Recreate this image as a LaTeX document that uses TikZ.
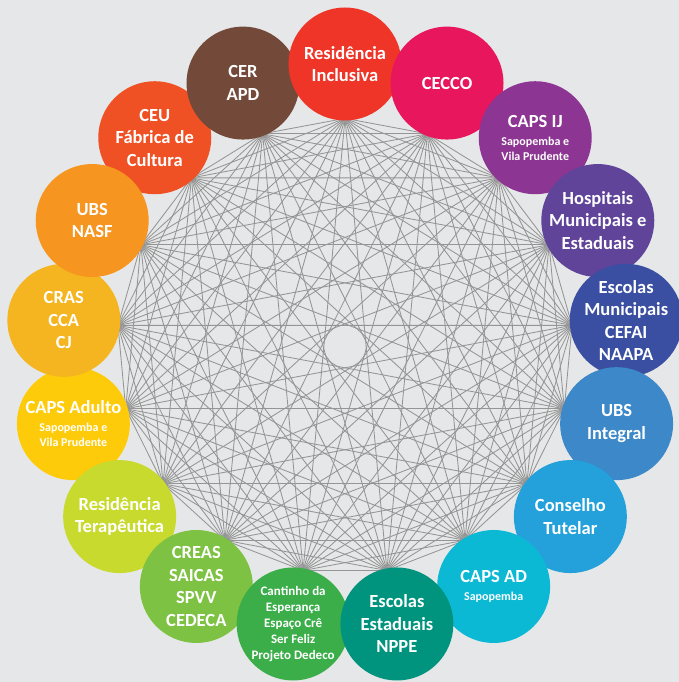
\documentclass[tikz,border=0pt]{standalone}
\usepackage{fontspec}
\setmainfont{Carlito}

% circle colours
\definecolor{bg}{HTML}{E6E7E8}
\definecolor{web}{HTML}{959595}
\definecolor{cResIncl}{HTML}{EE3528}
\definecolor{cCecco}{HTML}{E8175D}
\definecolor{cCapsIJ}{HTML}{8D3592}
\definecolor{cHosp}{HTML}{5F4499}
\definecolor{cEscMun}{HTML}{3A4FA1}
\definecolor{cUbsInt}{HTML}{3C88C8}
\definecolor{cConselho}{HTML}{24A1DB}
\definecolor{cCapsAD}{HTML}{0BB9D5}
\definecolor{cEscEst}{HTML}{00947E}
\definecolor{cCantinho}{HTML}{3BAE4A}
\definecolor{cCreas}{HTML}{7DC243}
\definecolor{cResTerap}{HTML}{C8DA2D}
\definecolor{cCapsAdulto}{HTML}{FECB0A}
\definecolor{cCras}{HTML}{F4B520}
\definecolor{cUbsNasf}{HTML}{F6951F}
\definecolor{cCeu}{HTML}{F05124}
\definecolor{cCer}{HTML}{734A3A}

\newcommand{\capsname}[1]{{\fontsize{18.5}{22.5}\selectfont #1}}

\begin{document}
\begin{tikzpicture}[x=1pt,y=1pt,
  bigtext/.style={text=white,align=center,font=\bfseries\fontsize{18.5}{22.5}\selectfont},
  subtext/.style={text=white,align=center,font=\bfseries\fontsize{12}{15.3}\selectfont},
  tinytext/.style={text=white,align=center,font=\bfseries\fontsize{13}{16}\selectfont},
  webline/.style={web,line width=0.85pt}]
\fill[bg] (0,0) rectangle (679,682);
\useasboundingbox (0,0) rectangle (679,682);

% hubs on the inner ring
\foreach \i in {0,...,16}
  \coordinate (h\i) at ([shift={(345,335.6)}]90-\i*360/17:228);

% every hub joined to every other
\foreach \i in {0,...,15}{
  \pgfmathtruncatemacro\nxt{\i+1}
  \foreach \j in {\nxt,...,16}
    \draw[webline] (h\i) -- (h\j);
}

% the circles, drawn in stacking order
\foreach \k/\nm/\col/\st/\txt in {
  15/ceu/cCeu/bigtext/{CEU\\Fábrica de\\Cultura},
  16/cer/cCer/bigtext/{CER\\APD},
  0/resincl/cResIncl/bigtext/{Residência\\Inclusiva},
  1/cecco/cCecco/bigtext/{CECCO},
  2/capsij/cCapsIJ/subtext/{\capsname{CAPS IJ}\\[2.7pt]Sapopemba e\\Vila Prudente},
  3/hosp/cHosp/bigtext/{Hospitais\\Municipais e\\Estaduais},
  4/escmun/cEscMun/bigtext/{Escolas\\Municipais\\CEFAI\\NAAPA},
  5/ubsint/cUbsInt/bigtext/{UBS\\Integral},
  6/conselho/cConselho/bigtext/{Conselho\\Tutelar},
  7/capsad/cCapsAD/subtext/{\capsname{CAPS AD}\\[2pt]Sapopemba},
  12/capsadulto/cCapsAdulto/subtext/{\capsname{CAPS Adulto}\\[2.7pt]Sapopemba e\\Vila Prudente},
  11/resterap/cResTerap/bigtext/{Residência\\Terapêutica},
  10/creas/cCreas/bigtext/{CREAS\\SAICAS\\SPVV\\CEDECA},
  9/cantinho/cCantinho/tinytext/{Cantinho da\\Esperança\\Espaço Crê\\Ser Feliz\\Projeto Dedeco},
  8/escest/cEscEst/bigtext/{Escolas\\Estaduais\\NPPE},
  13/cras/cCras/bigtext/{CRAS\\CCA\\CJ},
  14/ubsnasf/cUbsNasf/bigtext/{UBS\\NASF}}{
  \coordinate (\nm) at ([shift={(345,335.6)}]90-\k*360/17:282.4);
  \fill[\col] (\nm) circle[radius=56.5];
  \node[\st] (\nm-txt) at (\nm) {\txt};
}
\end{tikzpicture}
\end{document}
